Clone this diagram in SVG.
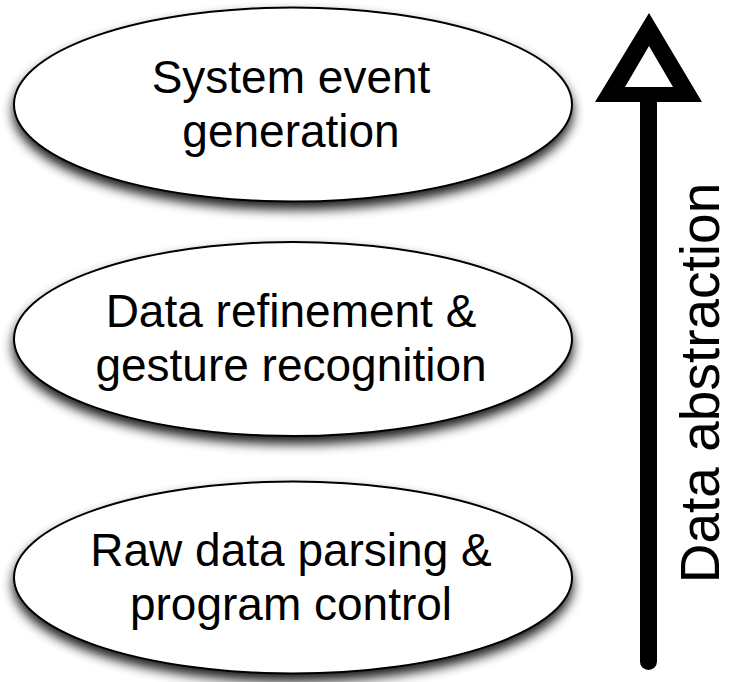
<svg xmlns="http://www.w3.org/2000/svg" width="730" height="682" viewBox="0 0 730 682">
  <defs>
    <filter id="shadow" x="-10%" y="-20%" width="120%" height="150%">
      <feGaussianBlur in="SourceAlpha" stdDeviation="6"/>
      <feOffset dx="0" dy="7" result="blur"/>
      <feComponentTransfer><feFuncA type="linear" slope="0.9"/></feComponentTransfer>
      <feMerge><feMergeNode/><feMergeNode in="SourceGraphic"/></feMerge>
    </filter>
  </defs>
  <style>
    .node ellipse { fill: #ffffff; stroke: #000000; stroke-width: 2; }
    .label { font-family: "Liberation Sans", Arial, Helvetica, sans-serif; font-size: 46px; fill: #000000; text-anchor: middle; }
    .axis { font-family: "Liberation Sans", Arial, Helvetica, sans-serif; font-size: 55px; fill: #000000; text-anchor: middle; }
  </style>

  <rect width="730" height="682" fill="#ffffff"/>

  <g id="system-event-generation" class="node">
    <ellipse cx="293" cy="104.5" rx="279" ry="97" filter="url(#shadow)"/>
    <text class="label" x="291" y="93">System event</text>
    <text class="label" x="291" y="147">generation</text>
  </g>

  <g id="data-refinement" class="node">
    <ellipse cx="293" cy="339" rx="279" ry="97" filter="url(#shadow)"/>
    <text class="label" x="291" y="327">Data refinement &amp;</text>
    <text class="label" x="291" y="381">gesture recognition</text>
  </g>

  <g id="raw-data-parsing" class="node">
    <ellipse cx="293" cy="577.5" rx="279" ry="96" filter="url(#shadow)"/>
    <text class="label" x="291" y="566">Raw data parsing &amp;</text>
    <text class="label" x="291" y="620">program control</text>
  </g>

  <g id="connectors">
    <!-- abstraction axis: thick shaft with hollow triangular head -->
    <line x1="648.5" y1="100" x2="648.5" y2="661.5" stroke="#000000" stroke-width="17" stroke-linecap="round"/>
    <path d="M649,13 L702,102 L595,102 Z M649,46 L625,87 L673,87 Z" fill="#000000" fill-rule="evenodd"/>
    <text class="axis" transform="translate(719,383) rotate(-90)">Data abstraction</text>
  </g>
</svg>
